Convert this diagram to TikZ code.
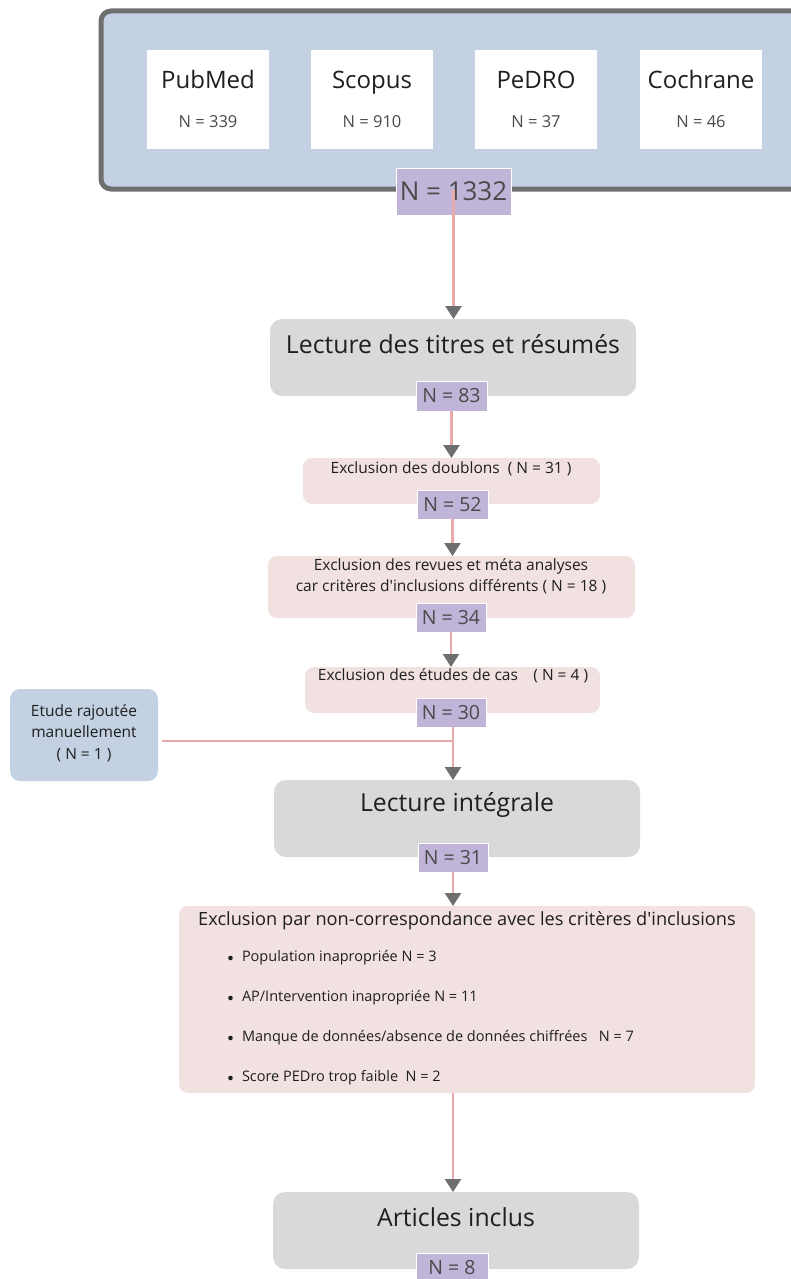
\documentclass[tikz,border=0pt]{standalone}
\usepackage{fontspec}
\setmainfont{Open Sans}[Ligatures=TeXOff]
\usetikzlibrary{arrows.meta}
\definecolor{outerfill}{HTML}{C3D1E3}
\definecolor{outerdraw}{HTML}{6F6F6F}
\definecolor{gfill}{HTML}{D9D9D9}
\definecolor{pfill}{HTML}{F1E1E1}
\definecolor{lfill}{HTML}{C0B5D9}
\definecolor{pline}{HTML}{E9A9A9}
\definecolor{agray}{HTML}{6E6E6E}
\definecolor{tdark}{HTML}{1F1F1F}
\definecolor{tmid}{HTML}{4A4A4A}
\tikzset{
  base/.style={inner sep=0pt, outer sep=0pt},
  whitebox/.style={base, fill=white, minimum width=122, minimum height=99},
  gbox/.style={base, fill=gfill, rounded corners=12pt, minimum width=366, minimum height=77},
  pbox/.style={base, fill=pfill, rounded corners=9pt},
  nbox/.style={base, fill=lfill, draw=white, line width=1pt, text=tmid},
  bluebox/.style={base, fill=outerfill, rounded corners=10pt},
  txt/.style={base, text=tdark, align=center},
  conn/.style={draw=pline, line width=2.5pt},
  arr/.style={conn, -{Triangle[width=16pt,length=13pt,color=agray,fill=agray]}},
}
\begin{document}
\begin{tikzpicture}[x=1pt,y=-1pt]
\useasboundingbox (0,0) rectangle (791,1279);
\begin{scope}
\clip (0,0) rectangle (791,1279);
% outer database box
\draw[fill=outerfill, draw=outerdraw, line width=5pt, rounded corners=10pt] (101,11) rectangle (830,189);
% database boxes
\node[whitebox] (pub) at (208,99.5) {};
\node[whitebox] (sco) at (372,99.5) {};
\node[whitebox] (ped) at (536,99.5) {};
\node[whitebox] (coc) at (701,99.5) {};
\foreach \n/\t/\v in {pub/PubMed/339, sco/Scopus/910, ped/PeDRO/37, coc/Cochrane/46}{
  \node[txt, anchor=base, text=tdark, font=\fontsize{24}{28}\selectfont] (\n t) at (\n.center |- 0,89) {\t};
  \node[txt, anchor=base, text=tmid, font=\fontsize{16.5}{19}\selectfont] (\n n) at (\n.center |- 0,128) {N = \v};
}
\node[nbox, minimum width=115, minimum height=47, font=\fontsize{26}{30}\selectfont] (n1332) at (453.5,191.5) {N = 1332};

% Lecture des titres et résumés
\node[gbox] (lec1) at (453,357.5) {};
\node[txt, font=\fontsize{24.8}{29}\selectfont] (lec1t) at (453,344) {Lecture des titres et résumés};
\node[nbox, minimum width=71, minimum height=30, font=\fontsize{19.5}{24}\selectfont] (n83) at (451.5,396) {N = 83};

% doublons
\node[pbox, minimum width=297, minimum height=46] (dbl) at (451.5,481) {};
\node[txt, font=\fontsize{15.5}{18}\selectfont] (dblt) at (451,469) {Exclusion des doublons\ \ ( N = 31 )};
\node[nbox, minimum width=71, minimum height=29, font=\fontsize{19.5}{24}\selectfont] (n52) at (452.5,504.5) {N = 52};

% revues
\node[pbox, minimum width=367, minimum height=62] (rev) at (451.5,587) {};
\node[txt, font=\fontsize{15.5}{21}\selectfont] (revt) at (451,576.5) {Exclusion des revues et méta analyses\\car critères d'inclusions différents ( N = 18 )};
\node[nbox, minimum width=70, minimum height=29, font=\fontsize{19.5}{24}\selectfont] (n34) at (451,617.5) {N = 34};

% etudes de cas
\node[pbox, minimum width=295, minimum height=46] (cas) at (452.5,690) {};
\node[txt, font=\fontsize{15.5}{18}\selectfont] (cast) at (453,676) {Exclusion des études de cas\quad ( N = 4 )};
\node[nbox, minimum width=70, minimum height=29, font=\fontsize{19.5}{24}\selectfont] (n30) at (451,712.5) {N = 30};

% etude rajoutee
\node[bluebox, minimum width=148, minimum height=92] (raj) at (84,735) {};
\node[txt, font=\fontsize{15.5}{21.5}\selectfont] (rajt) at (84,733) {Etude rajoutée\\manuellement\\( N = 1 )};
\coordinate (join) at (453,741);

% Lecture integrale
\node[gbox] (lec2) at (457,818.5) {};
\node[txt, font=\fontsize{24.8}{29}\selectfont] (lec2t) at (457,805) {Lecture intégrale};
\node[nbox, minimum width=70, minimum height=29, font=\fontsize{19.5}{24}\selectfont] (n31) at (453,857.5) {N = 31};

% big exclusion
\node[pbox, minimum width=576, minimum height=187] (excl) at (467,999.5) {};
\node[txt, font=\fontsize{18.2}{21}\selectfont] (exclt) at (467,921) {Exclusion par non-correspondance avec les critères d'inclusions};
\foreach \i/\y/\t in {1/958/{Population inapropriée N = 3}, 2/998/{AP/Intervention inapropriée N = 11}, 3/1038/{Manque de données/absence de données chiffrées\ \ \ N = 7}, 4/1078/{Score PEDro trop faible\ \ N = 2}}{
  \node[txt, anchor=west, font=\fontsize{14.5}{17}\selectfont] (b\i) at (242,\y) {\t};
  \fill[tdark] (230.5,\y) circle (2.3pt);
}

% Articles inclus
\node[gbox] (art) at (456,1230.5) {};
\node[txt, font=\fontsize{24.8}{29}\selectfont] (artt) at (456,1217) {Articles inclus};
\node[nbox, minimum width=72, minimum height=30, font=\fontsize{19.5}{24}\selectfont] (n8) at (452,1268) {N = 8};

% connectors
\draw[arr] (n1332.center |- 0,190) -- (n1332.center |- lec1.north);
\draw[arr] (n83.south) -- (n83.south |- dbl.north);
\draw[arr] (n52.south) -- (n52.south |- rev.north);
\draw[arr] (n34.south) -- (n34.south |- cas.north);
\draw[arr] (n30.south -| join) -- (join |- lec2.north);
\draw[conn] (raj.east |- join) ++(4,0) -- (join);
\draw[arr] (n31.south) -- (n31.south |- excl.north);
\draw[arr] (excl.south -| n31) -- (n31 |- art.north);
\end{scope}
\end{tikzpicture}
\end{document}
